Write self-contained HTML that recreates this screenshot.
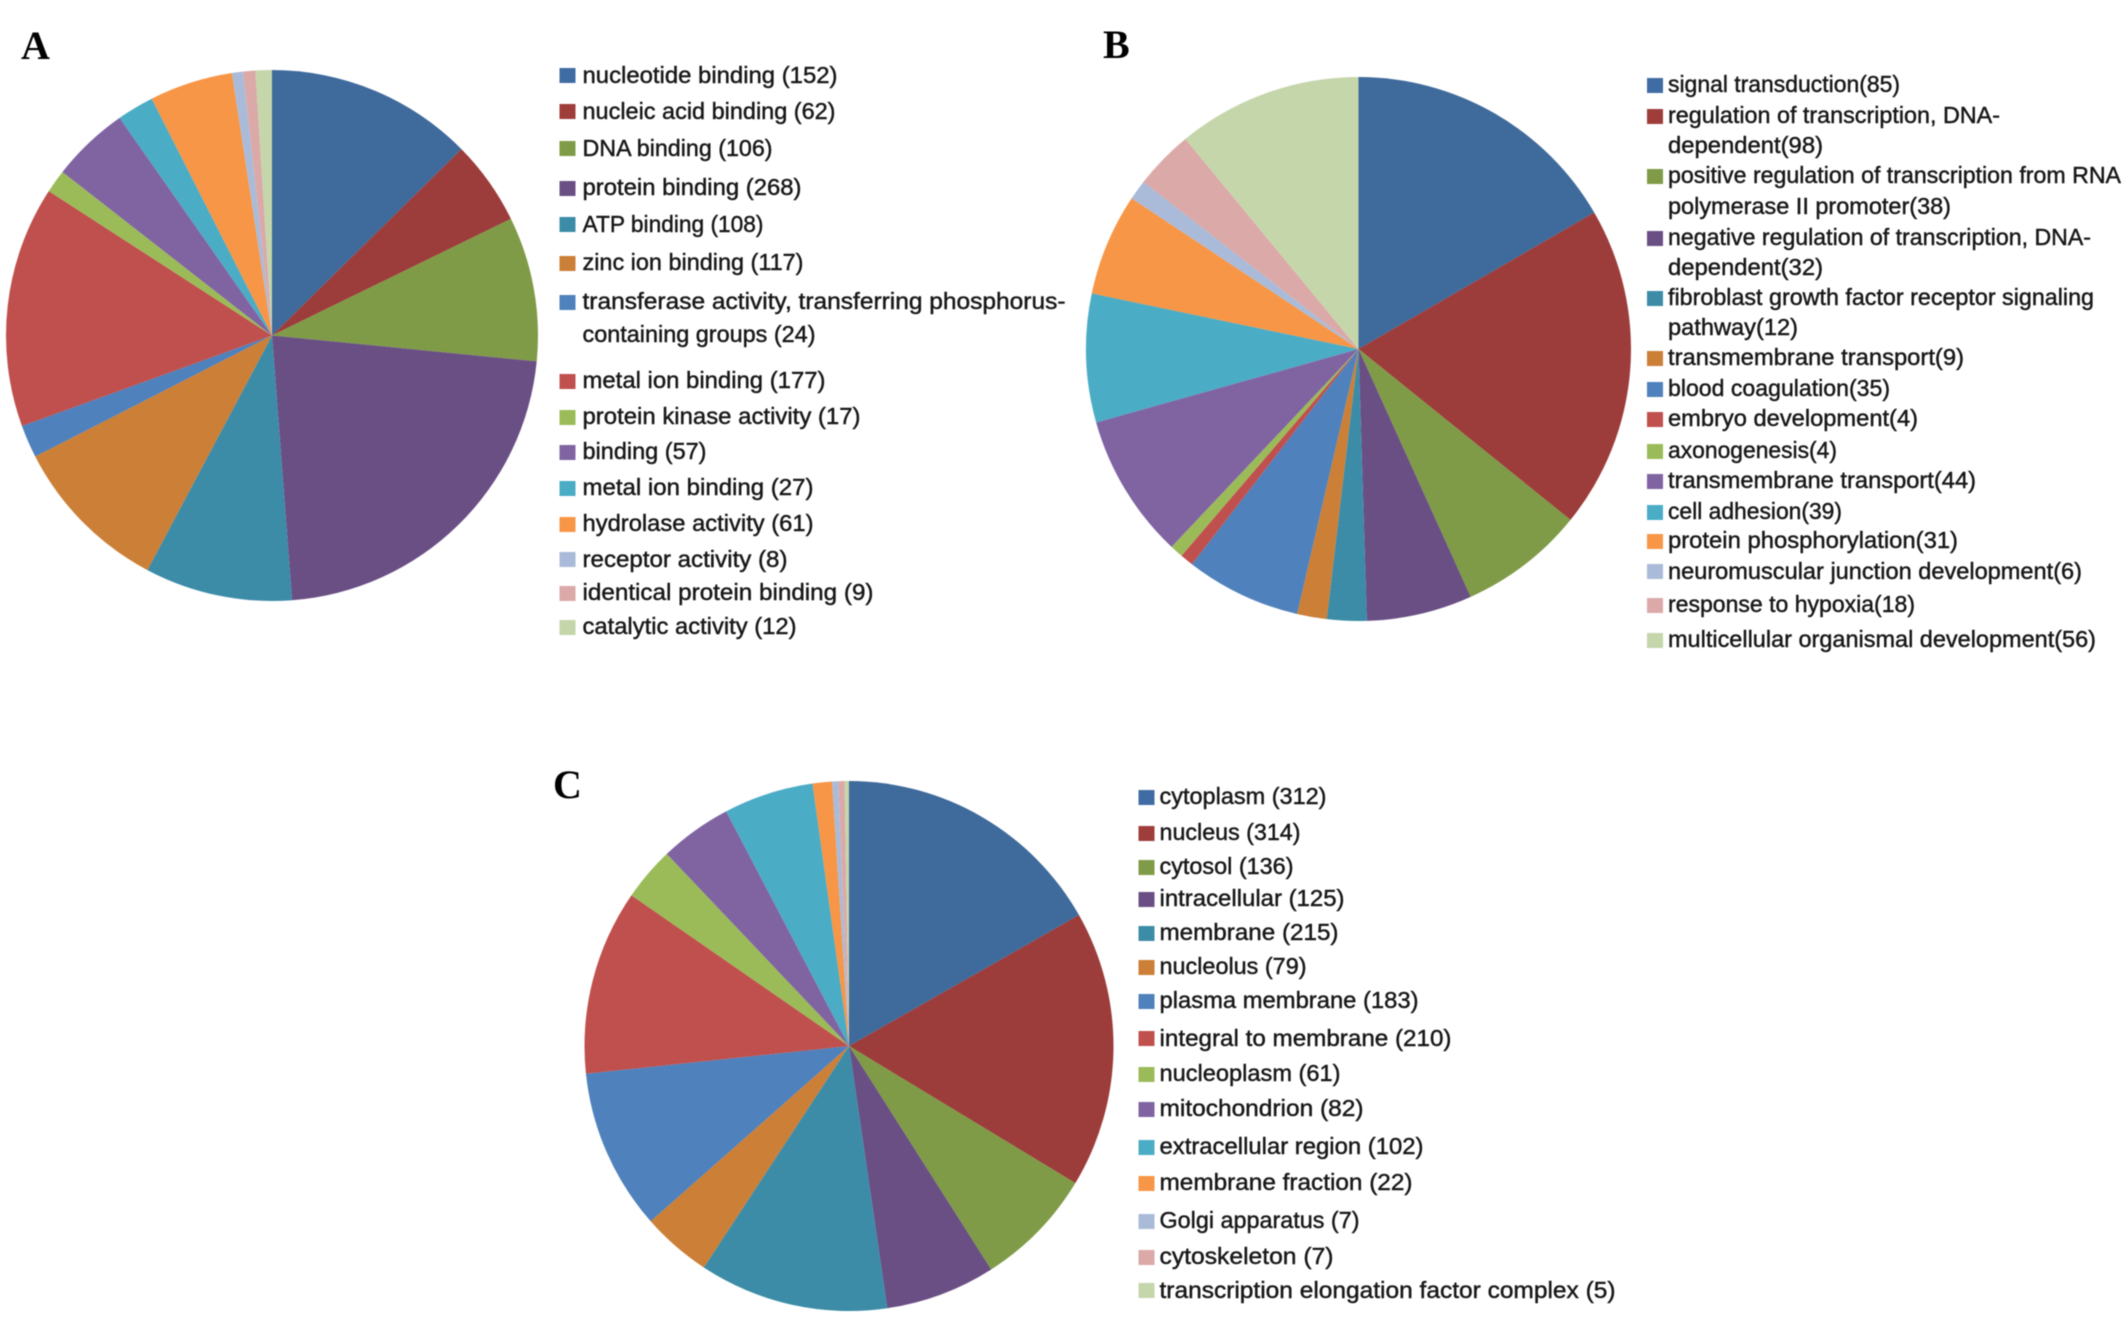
<!DOCTYPE html>
<html lang="en">
<head>
<meta charset="utf-8">
<title>Gene ontology pie charts</title>
<style>
html,body{margin:0;padding:0;background:#fff;}
#figure{display:block;width:2126px;height:1331px;background:#fff;filter:blur(.5px);}
.lg text{font-family:"Liberation Sans",sans-serif;font-size:23px;fill:#181818;stroke:#181818;stroke-width:.45px;}
.panel-label{font-family:"Liberation Serif",serif;font-size:40px;font-weight:bold;fill:#000;}
</style>
</head>
<body>
<svg id="figure" xmlns="http://www.w3.org/2000/svg" width="2126" height="1331" viewBox="0 0 2126 1331">
  <text class="panel-label" x="21" y="59">A</text>
  <text class="panel-label" x="1103" y="58">B</text>
  <text class="panel-label" x="553" y="798">C</text>

  <g id="pie-a"></g>
  <g id="pie-b"></g>
  <g id="pie-c"></g>

  <g class="lg" transform="translate(-0.5,-1)">
    <g><rect x="560" y="69" width="16" height="15" fill="#3f6ca3"/><text x="583" y="84" textLength="255" lengthAdjust="spacingAndGlyphs">nucleotide binding (152)</text></g>
    <g><rect x="560" y="105" width="16" height="15" fill="#9e3d3a"/><text x="583" y="120" textLength="253" lengthAdjust="spacingAndGlyphs">nucleic acid binding (62)</text></g>
    <g><rect x="560" y="142" width="16" height="15" fill="#7f9b47"/><text x="583" y="157" textLength="190" lengthAdjust="spacingAndGlyphs">DNA binding (106)</text></g>
    <g><rect x="560" y="182" width="16" height="15" fill="#6a4f85"/><text x="583" y="196" textLength="219" lengthAdjust="spacingAndGlyphs">protein binding (268)</text></g>
    <g><rect x="560" y="218" width="16" height="15" fill="#3c8ca8"/><text x="583" y="233" textLength="181" lengthAdjust="spacingAndGlyphs">ATP binding (108)</text></g>
    <g><rect x="560" y="257" width="16" height="15" fill="#cc7f36"/><text x="583" y="271" textLength="221" lengthAdjust="spacingAndGlyphs">zinc ion binding (117)</text></g>
    <g><rect x="560" y="296" width="16" height="15" fill="#4f81bd"/><text x="583" y="310" textLength="483" lengthAdjust="spacingAndGlyphs">transferase activity, transferring phosphorus-</text><text x="583" y="343" textLength="233" lengthAdjust="spacingAndGlyphs">containing groups (24)</text></g>
    <g><rect x="560" y="375" width="16" height="15" fill="#c0504d"/><text x="583" y="389" textLength="243" lengthAdjust="spacingAndGlyphs">metal ion binding (177)</text></g>
    <g><rect x="560" y="411" width="16" height="15" fill="#9bbb59"/><text x="583" y="425" textLength="278" lengthAdjust="spacingAndGlyphs">protein kinase activity (17)</text></g>
    <g><rect x="560" y="446" width="16" height="15" fill="#8064a2"/><text x="583" y="460" textLength="124" lengthAdjust="spacingAndGlyphs">binding (57)</text></g>
    <g><rect x="560" y="482" width="16" height="15" fill="#4bacc6"/><text x="583" y="496" textLength="231" lengthAdjust="spacingAndGlyphs">metal ion binding (27)</text></g>
    <g><rect x="560" y="518" width="16" height="15" fill="#f79646"/><text x="583" y="532" textLength="231" lengthAdjust="spacingAndGlyphs">hydrolase activity (61)</text></g>
    <g><rect x="560" y="553" width="16" height="15" fill="#aabbd9"/><text x="583" y="568" textLength="205" lengthAdjust="spacingAndGlyphs">receptor activity (8)</text></g>
    <g><rect x="560" y="587" width="16" height="15" fill="#dba9a8"/><text x="583" y="601" textLength="291" lengthAdjust="spacingAndGlyphs">identical protein binding (9)</text></g>
    <g><rect x="560" y="621" width="16" height="15" fill="#c5d6ab"/><text x="583" y="635" textLength="214" lengthAdjust="spacingAndGlyphs">catalytic activity (12)</text></g>
  </g>

  <g class="lg" transform="translate(-4,-1)">
    <g><rect x="1651" y="79" width="16" height="15" fill="#3f6ca3"/><text x="1672" y="93" textLength="232" lengthAdjust="spacingAndGlyphs">signal transduction(85)</text></g>
    <g><rect x="1651" y="110" width="16" height="15" fill="#9e3d3a"/><text x="1672" y="124" textLength="332" lengthAdjust="spacingAndGlyphs">regulation of transcription, DNA-</text><text x="1672" y="154" textLength="155" lengthAdjust="spacingAndGlyphs">dependent(98)</text></g>
    <g><rect x="1651" y="170" width="16" height="15" fill="#7f9b47"/><text x="1672" y="184" textLength="453" lengthAdjust="spacingAndGlyphs">positive regulation of transcription from RNA</text><text x="1672" y="215" textLength="283" lengthAdjust="spacingAndGlyphs">polymerase II promoter(38)</text></g>
    <g><rect x="1651" y="232" width="16" height="15" fill="#6a4f85"/><text x="1672" y="246" textLength="423" lengthAdjust="spacingAndGlyphs">negative regulation of transcription, DNA-</text><text x="1672" y="276" textLength="155" lengthAdjust="spacingAndGlyphs">dependent(32)</text></g>
    <g><rect x="1651" y="292" width="16" height="15" fill="#3c8ca8"/><text x="1672" y="306" textLength="426" lengthAdjust="spacingAndGlyphs">fibroblast growth factor receptor signaling</text><text x="1672" y="336" textLength="130" lengthAdjust="spacingAndGlyphs">pathway(12)</text></g>
    <g><rect x="1651" y="352" width="16" height="15" fill="#cc7f36"/><text x="1672" y="366" textLength="296" lengthAdjust="spacingAndGlyphs">transmembrane transport(9)</text></g>
    <g><rect x="1651" y="383" width="16" height="15" fill="#4f81bd"/><text x="1672" y="397" textLength="222" lengthAdjust="spacingAndGlyphs">blood coagulation(35)</text></g>
    <g><rect x="1651" y="413" width="16" height="15" fill="#c0504d"/><text x="1672" y="427" textLength="250" lengthAdjust="spacingAndGlyphs">embryo development(4)</text></g>
    <g><rect x="1651" y="445" width="16" height="15" fill="#9bbb59"/><text x="1672" y="459" textLength="169" lengthAdjust="spacingAndGlyphs">axonogenesis(4)</text></g>
    <g><rect x="1651" y="475" width="16" height="15" fill="#8064a2"/><text x="1672" y="489" textLength="308" lengthAdjust="spacingAndGlyphs">transmembrane transport(44)</text></g>
    <g><rect x="1651" y="506" width="16" height="15" fill="#4bacc6"/><text x="1672" y="520" textLength="174" lengthAdjust="spacingAndGlyphs">cell adhesion(39)</text></g>
    <g><rect x="1651" y="535" width="16" height="15" fill="#f79646"/><text x="1672" y="549" textLength="290" lengthAdjust="spacingAndGlyphs">protein phosphorylation(31)</text></g>
    <g><rect x="1651" y="565" width="16" height="15" fill="#aabbd9"/><text x="1672" y="580" textLength="414" lengthAdjust="spacingAndGlyphs">neuromuscular junction development(6)</text></g>
    <g><rect x="1651" y="599" width="16" height="15" fill="#dba9a8"/><text x="1672" y="613" textLength="247" lengthAdjust="spacingAndGlyphs">response to hypoxia(18)</text></g>
    <g><rect x="1651" y="634" width="16" height="15" fill="#c5d6ab"/><text x="1672" y="648" textLength="428" lengthAdjust="spacingAndGlyphs">multicellular organismal development(56)</text></g>
  </g>

  <g class="lg" transform="translate(-3.5,-2)">
    <g><rect x="1142" y="792" width="16" height="15" fill="#3f6ca3"/><text x="1163" y="806" textLength="167" lengthAdjust="spacingAndGlyphs">cytoplasm (312)</text></g>
    <g><rect x="1142" y="828" width="16" height="15" fill="#9e3d3a"/><text x="1163" y="842" textLength="141" lengthAdjust="spacingAndGlyphs">nucleus (314)</text></g>
    <g><rect x="1142" y="862" width="16" height="15" fill="#7f9b47"/><text x="1163" y="876" textLength="134" lengthAdjust="spacingAndGlyphs">cytosol (136)</text></g>
    <g><rect x="1142" y="894" width="16" height="15" fill="#6a4f85"/><text x="1163" y="908" textLength="185" lengthAdjust="spacingAndGlyphs">intracellular (125)</text></g>
    <g><rect x="1142" y="928" width="16" height="15" fill="#3c8ca8"/><text x="1163" y="942" textLength="179" lengthAdjust="spacingAndGlyphs">membrane (215)</text></g>
    <g><rect x="1142" y="962" width="16" height="15" fill="#cc7f36"/><text x="1163" y="976" textLength="147" lengthAdjust="spacingAndGlyphs">nucleolus (79)</text></g>
    <g><rect x="1142" y="996" width="16" height="15" fill="#4f81bd"/><text x="1163" y="1010" textLength="259" lengthAdjust="spacingAndGlyphs">plasma membrane (183)</text></g>
    <g><rect x="1142" y="1033" width="16" height="15" fill="#c0504d"/><text x="1163" y="1048" textLength="292" lengthAdjust="spacingAndGlyphs">integral to membrane (210)</text></g>
    <g><rect x="1142" y="1069" width="16" height="15" fill="#9bbb59"/><text x="1163" y="1083" textLength="181" lengthAdjust="spacingAndGlyphs">nucleoplasm (61)</text></g>
    <g><rect x="1142" y="1104" width="16" height="15" fill="#8064a2"/><text x="1163" y="1118" textLength="204" lengthAdjust="spacingAndGlyphs">mitochondrion (82)</text></g>
    <g><rect x="1142" y="1142" width="16" height="15" fill="#4bacc6"/><text x="1163" y="1156" textLength="264" lengthAdjust="spacingAndGlyphs">extracellular region (102)</text></g>
    <g><rect x="1142" y="1178" width="16" height="15" fill="#f79646"/><text x="1163" y="1192" textLength="253" lengthAdjust="spacingAndGlyphs">membrane fraction (22)</text></g>
    <g><rect x="1142" y="1216" width="16" height="15" fill="#aabbd9"/><text x="1163" y="1230" textLength="200" lengthAdjust="spacingAndGlyphs">Golgi apparatus (7)</text></g>
    <g><rect x="1142" y="1252" width="16" height="15" fill="#dba9a8"/><text x="1163" y="1266" textLength="174" lengthAdjust="spacingAndGlyphs">cytoskeleton (7)</text></g>
    <g><rect x="1142" y="1285" width="16" height="15" fill="#c5d6ab"/><text x="1163" y="1300" textLength="456" lengthAdjust="spacingAndGlyphs">transcription elongation factor complex (5)</text></g>
  </g>
</svg>
<script>
const categoriesA = ['nucleotide binding','nucleic acid binding','DNA binding','protein binding','ATP binding','zinc ion binding','transferase activity','metal ion binding','protein kinase activity','binding','metal ion binding 27','hydrolase activity','receptor activity','identical protein binding','catalytic activity'];
const valuesA = [152,62,106,268,108,117,24,177,17,57,27,61,8,9,12];

const categoriesB = ['signal transduction','regulation of transcription','positive regulation of transcription','negative regulation of transcription','fibroblast growth factor signaling','transmembrane transport 9','blood coagulation','embryo development','axonogenesis','transmembrane transport 44','cell adhesion','protein phosphorylation','neuromuscular junction development','response to hypoxia','multicellular organismal development'];
const valuesB = [85,98,38,32,12,9,35,4,4,44,39,31,6,18,56];

const categoriesC = ['cytoplasm','nucleus','cytosol','intracellular','membrane','nucleolus','plasma membrane','integral to membrane','nucleoplasm','mitochondrion','extracellular region','membrane fraction','Golgi apparatus','cytoskeleton','transcription elongation factor complex'];
const valuesC = [312,314,136,125,215,79,183,210,61,82,102,22,7,7,5];

const palette = ['#3f6a9c','#9c3d3b','#7f9b47','#6a4f85','#3c8ca8','#cc7f36','#4f81bd','#c0504d','#9bbb59','#8064a2','#4bacc6','#f79646','#aabbd9','#dba9a8','#c5d6ab'];

const SVG_NS = 'http://www.w3.org/2000/svg';

function angleScale(total) {
  return function (v) { return v / total * Math.PI * 2; };
}

function pointAt(geom, a) {
  return [geom.cx + geom.rx * Math.sin(a), geom.cy - geom.ry * Math.cos(a)];
}

function drawPie(groupId, categories, values, geom) {
  const group = document.getElementById(groupId);
  const total = values.reduce(function (s, v) { return s + v; }, 0);
  const toAngle = angleScale(total);
  let cumulative = 0;
  values.forEach(function (v, i) {
    const a0 = toAngle(cumulative);
    cumulative += v;
    const a1 = toAngle(cumulative);
    const p0 = pointAt(geom, a0);
    const p1 = pointAt(geom, a1);
    const large = a1 - a0 > Math.PI ? 1 : 0;
    const d = 'M' + geom.cx + ' ' + geom.cy +
      'L' + p0[0].toFixed(2) + ' ' + p0[1].toFixed(2) +
      'A' + geom.rx + ' ' + geom.ry + ' 0 ' + large + ' 1 ' + p1[0].toFixed(2) + ' ' + p1[1].toFixed(2) + 'Z';
    const el = document.createElementNS(SVG_NS, 'path');
    el.setAttribute('d', d);
    el.setAttribute('fill', palette[i % palette.length]);
    const slug = categories[i].toLowerCase().replace(/[^a-z0-9]+/g, '-');
    
    
    group.appendChild(el);
  });
}

drawPie('pie-a', categoriesA, valuesA, {cx: 272, cy: 335.5, rx: 266, ry: 265.5});
drawPie('pie-b', categoriesB, valuesB, {cx: 1358.5, cy: 349, rx: 272.5, ry: 272});
drawPie('pie-c', categoriesC, valuesC, {cx: 849, cy: 1046, rx: 264.5, ry: 265});
</script>
</body>
</html>
